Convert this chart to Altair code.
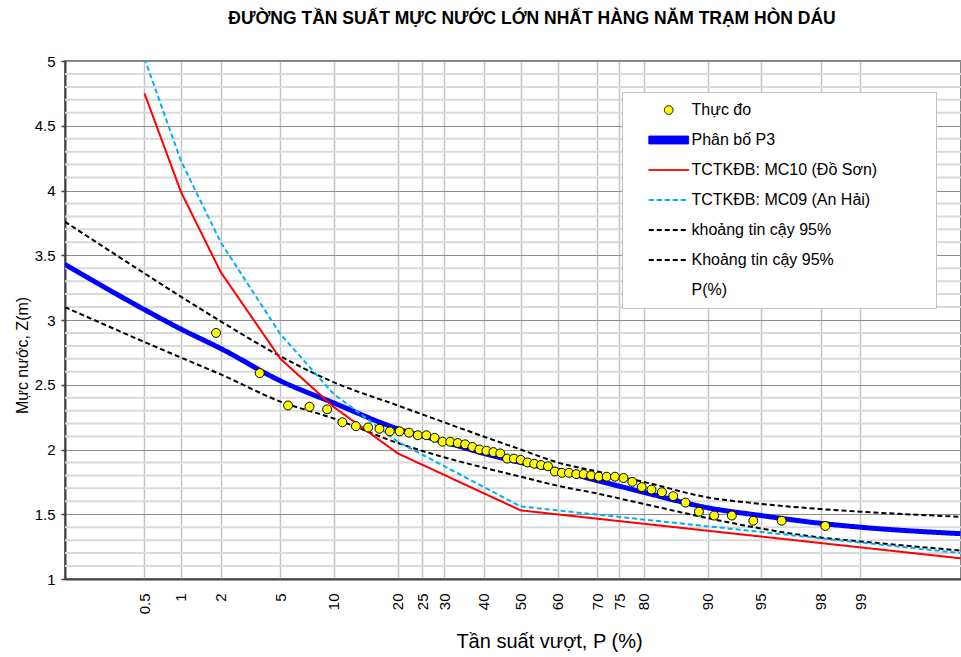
import altair as alt
import pandas as pd
from statistics import NormalDist

FONT = "Liberation Sans"
TITLE = "ĐƯỜNG TẦN SUẤT MỰC NƯỚC LỚN NHẤT HÀNG NĂM TRẠM HÒN DÁU"

SERIES = [
    "Thực đo",
    "Phân bố P3",
    "TCTKĐB: MC10 (Đồ Sơn)",
    "TCTKĐB: MC09 (An Hải)",
    "khoảng tin cậy 95%",
    "Khoảng tin cậy 95%",
    "P(%)",
]

# observed annual maxima (plotting position P %, level Z m)
OBS_P = [1.85, 3.70, 5.56, 7.41, 9.26, 11.11, 12.96, 14.81, 16.67, 18.52,
         20.37, 22.22, 24.07, 25.93, 27.78, 29.63, 31.48, 33.33, 35.19, 37.04,
         38.89, 40.74, 42.59, 44.44, 46.30, 48.15, 50.00, 51.85, 53.70, 55.56,
         57.41, 59.26, 61.11, 62.96, 64.81, 66.67, 68.52, 70.37, 72.22, 74.07,
         75.93, 77.78, 79.63, 81.48, 83.33, 85.19, 87.04, 88.89, 90.74, 92.59,
         94.44, 96.30, 98.15]
OBS_Z = [2.90, 2.59, 2.34, 2.33, 2.31, 2.21, 2.18, 2.17, 2.16, 2.14,
         2.14, 2.13, 2.11, 2.11, 2.09, 2.06, 2.06, 2.05, 2.04, 2.02,
         2.00, 1.99, 1.98, 1.97, 1.93, 1.93, 1.92, 1.90, 1.89, 1.88,
         1.87, 1.83, 1.82, 1.82, 1.81, 1.81, 1.80, 1.79, 1.79, 1.79,
         1.78, 1.75, 1.71, 1.69, 1.67, 1.64, 1.59, 1.52, 1.49, 1.49,
         1.45, 1.45, 1.41]

# fitted P3 curve and 95% confidence bounds
CURVE_P = [0.09, 0.5, 1, 2, 5, 10, 20, 30, 40, 50, 60, 70, 80, 90, 95, 98, 99, 99.87]
P3_Z = [3.43, 3.08, 2.93, 2.78, 2.53, 2.36, 2.16, 2.06, 1.97, 1.90, 1.84, 1.76, 1.67, 1.55, 1.49, 1.43, 1.40, 1.35]
CI_UP_Z = [3.76, 3.36, 3.18, 2.99, 2.72, 2.52, 2.34, 2.21, 2.10, 2.00, 1.90, 1.83, 1.75, 1.63, 1.58, 1.54, 1.52, 1.48]
CI_LO_Z = [3.10, 2.83, 2.71, 2.58, 2.37, 2.24, 2.05, 1.94, 1.86, 1.79, 1.72, 1.66, 1.58, 1.47, 1.39, 1.32, 1.29, 1.22]

# TCTKĐB design curves
TC_P = [0.5, 1, 2, 5, 10, 20, 50, 99.87]
MC10_Z = [4.75, 3.99, 3.37, 2.70, 2.33, 1.97, 1.53, 1.16]
MC09_Z = [5.02, 4.23, 3.60, 2.89, 2.43, 2.06, 1.56, 1.20]

TICK_P = [0.5, 1, 2, 5, 10, 20, 25, 30, 40, 50, 60, 70, 75, 80, 90, 95, 98, 99]
Y_MAJOR = [1, 1.5, 2, 2.5, 3, 3.5, 4, 4.5, 5]
Y_MINOR = [1.1, 1.2, 1.3, 1.4, 1.6, 1.7, 1.8, 1.9, 2.1, 2.2, 2.3, 2.4, 2.6, 2.7, 2.8, 2.9,
           3.1, 3.2, 3.3, 3.4, 3.6, 3.7, 3.8, 3.9, 4.1, 4.2, 4.3, 4.4, 4.6, 4.7, 4.8, 4.9]
X_DOMAIN = [-3.12, 3.015]

nd = NormalDist()


def zq(p):
    return nd.inv_cdf(p / 100.0)


def frame(name, ps, zs):
    return pd.DataFrame({"series": name, "P": ps, "Z": zs, "x": [zq(p) for p in ps]})


obs = frame(SERIES[0], OBS_P, OBS_Z)
p3 = frame(SERIES[1], CURVE_P, P3_Z)
ci = pd.concat([frame(SERIES[4], CURVE_P, CI_UP_Z), frame(SERIES[5], CURVE_P, CI_LO_Z)])
tc = pd.concat([frame(SERIES[2], TC_P, MC10_Z), frame(SERIES[3], TC_P, MC09_Z)])
minor = pd.DataFrame({"g": Y_MINOR})

xscale = alt.Scale(domain=X_DOMAIN, nice=False, zero=False)
yscale = alt.Scale(domain=[1, 5], nice=False, zero=False)

xaxis = alt.Axis(
    values=[zq(p) for p in TICK_P],
    labelExpr="toString(round(1000*cumulativeNormal(datum.value))/10)",
    labelAngle=270, labelFont=FONT, labelFontSize=15, labelColor="black",
    labelPadding=14, labelOverlap=False, ticks=False,
    domainColor="#404040", domainWidth=2,
    grid=True, gridColor="#c4c4c4", gridWidth=1.5,
    title="Tần suất vượt, P (%)", titleFont=FONT, titleFontSize=20,
    titleFontWeight="normal", titleColor="black",
    titleX=484, titleY=68, titleAlign="center", titleBaseline="alphabetic",
)
yaxis = alt.Axis(
    values=Y_MAJOR, format="~g",
    labelFont=FONT, labelFontSize=15, labelColor="black", labelPadding=6,
    tickSize=4, tickColor="#404040", tickWidth=1.5,
    domainColor="#404040", domainWidth=2,
    grid=True, gridColor="#8c8c8c", gridWidth=1,
    title="Mực nước, Z(m)", titleFont=FONT, titleFontSize=16,
    titleFontWeight="normal", titleColor="black",
    titleX=-43, titleY=294, titleAngle=270, titleAlign="center", titleBaseline="middle",
)

X = alt.X("x:Q", scale=xscale, axis=xaxis)
Y = alt.Y("Z:Q", scale=yscale, axis=yaxis)

leg = alt.Legend(
    title=None, orient="none", legendX=557, legendY=31,
    padding=10, fillColor="white", strokeColor="#c0c0c0",
    labelFont=FONT, labelFontSize=16, labelColor="black", labelLimit=700,
    labelExpr="datum.label + '\u2003\u2003\u2003\u200b'",
    symbolSize=75, symbolOffset=28.7, labelOffset=14.8, rowPadding=14,
    symbolStrokeWidth=1,
)

RECT_THICK = "M-4.6,-0.92H4.6V0.92H-4.6Z"
RECT_THIN = "M-4.6,-0.115H4.6V0.115H-4.6Z"
DOUBLE = "M-4.6,-0.115H4.6M-4.6,0.115H4.6"

stroke_scale = alt.Scale(domain=SERIES, range=["black", "#0000ff", "#ff0000", "#00b0f0", "black", "black", "transparent"])
fill_scale = alt.Scale(domain=SERIES, range=["#ffff00", "#0000ff", "#ff0000", "transparent", "transparent", "transparent", "transparent"])
dash_scale = alt.Scale(domain=SERIES, range=[[1, 0], [1, 0], [1, 0], [5, 3], [5, 3], [5, 3], [1, 0]])
shape_scale = alt.Scale(domain=SERIES, range=["circle", RECT_THICK, RECT_THIN, DOUBLE, DOUBLE, DOUBLE, "circle"])

S = alt.Stroke("series:N", scale=stroke_scale, legend=leg)
D = alt.StrokeDash("series:N", scale=dash_scale, legend=leg)

rules = alt.Chart(minor).mark_rule(color="#dadada", strokeWidth=2).encode(
    y=alt.Y("g:Q", scale=yscale, axis=yaxis)
)

p3_layer = alt.Chart(p3).mark_line(strokeWidth=5, interpolate="monotone", clip=True).encode(
    x=X, y=Y, stroke=S, strokeDash=D, order="x:Q"
)
ci_layer = alt.Chart(ci).mark_line(strokeWidth=2, interpolate="monotone", clip=True).encode(
    x=X, y=Y, stroke=S, strokeDash=D, order="x:Q"
)
tc_layer = alt.Chart(tc).mark_line(strokeWidth=2, clip=True).encode(
    x=X, y=Y, stroke=S, strokeDash=D, order="x:Q"
)
pt_layer = alt.Chart(obs).mark_point(filled=True, size=80, opacity=1, strokeWidth=1).encode(
    x=X, y=Y,
    fill=alt.Fill("series:N", scale=fill_scale, legend=leg),
    stroke=S,
    shape=alt.Shape("series:N", scale=shape_scale, legend=leg),
)

chart = alt.layer(rules, p3_layer, ci_layer, tc_layer, pt_layer).properties(
    width=896, height=518,
    title=alt.TitleParams(TITLE, font=FONT, fontSize=17.5, fontWeight="bold", color="black",
                          anchor="middle", frame="group", dx=19, offset=27),
    padding={"left": 65, "top": 61, "right": 0, "bottom": 78},
    autosize=alt.AutoSizeParams(type="none"),
    background="white",
).configure_view(stroke="#595959", strokeWidth=1.5)

chart.save("out.html", embed_options={"renderer": "svg", "actions": False})
